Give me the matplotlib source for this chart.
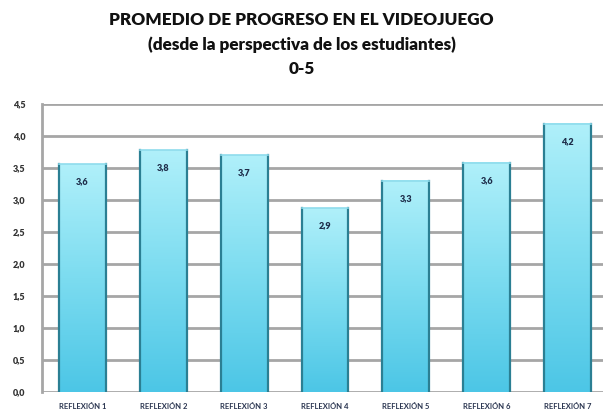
import numpy as np
import matplotlib
matplotlib.use('Agg')
import matplotlib.pyplot as plt
from matplotlib.colors import LinearSegmentedColormap

categories = ['REFLEXIÓN 1', 'REFLEXIÓN 2', 'REFLEXIÓN 3', 'REFLEXIÓN 4',
              'REFLEXIÓN 5', 'REFLEXIÓN 6', 'REFLEXIÓN 7']
values = [3.56, 3.78, 3.70, 2.87, 3.30, 3.58, 4.19]
labels = ['3,6', '3,8', '3,7', '2,9', '3,3', '3,6', '4,2']
yticks = [0.0, 0.5, 1.0, 1.5, 2.0, 2.5, 3.0, 3.5, 4.0, 4.5]

plt.rcParams['font.family'] = ['Lato', 'DejaVu Sans']

fig = plt.figure(figsize=(6.03, 4.16), dpi=100)
ax = fig.add_axes([42 / 603, 24 / 416, 566 / 603, 288 / 416])

cmap = LinearSegmentedColormap.from_list('bar', ['#4cc6e6', '#7cdcf0', '#b0f0fa'])
grad = np.linspace(0, 1, 256).reshape(-1, 1)
w = 0.58

for i, v in enumerate(values):
    ax.imshow(grad, extent=[i - w / 2, i + w / 2, 0, v], origin='lower',
              aspect='auto', cmap=cmap, zorder=3)
    ax.plot([i - w / 2, i - w / 2], [0, v], color='#2b7f93', lw=1.6, zorder=4)
    ax.plot([i + w / 2, i + w / 2], [0, v], color='#2b7f93', lw=1.6, zorder=4)
    ax.plot([i - w / 2, i + w / 2], [v, v], color='#8fdcec', lw=1.2, zorder=4)
    ax.text(i, v - 0.27, labels[i], ha='center', va='center', fontsize=6.5,
            fontweight='heavy', color='#1e2d4a', zorder=5)

ax.set_xlim(-0.5, 6.5)
ax.set_ylim(0, 4.5)
ax.set_yticks(yticks)
ax.set_yticklabels([f'{t:.1f}'.replace('.', ',') for t in yticks],
                   fontsize=6.5, fontweight='heavy', color='#333333')
ax.set_xticks(range(len(categories)))
ax.set_xticklabels(categories, fontsize=5.5, fontweight='bold', color='#2a3550')
ax.tick_params(length=0, pad=8)
ax.tick_params(axis='y', pad=12)

ax.grid(axis='y', color='#a6a6a6', lw=2, zorder=1)
ax.set_axisbelow(True)
for s in ['top', 'right', 'bottom']:
    ax.spines[s].set_visible(False)
ax.spines['left'].set_color('#a6a6a6')
ax.spines['left'].set_linewidth(2)

fig.text(0.5, 0.952, 'PROMEDIO DE PROGRESO EN EL VIDEOJUEGO', ha='center',
         va='center', fontsize=12.3, fontweight='heavy', color='#111111')
fig.text(0.5, 0.893, '(desde la perspectiva de los estudiantes)', ha='center',
         va='center', fontsize=12.3, fontweight='heavy', color='#111111')
fig.text(0.5, 0.833, '0-5', ha='center', va='center', fontsize=12.3,
         fontweight='heavy', color='#111111')

fig.savefig('out.png', dpi=100)
